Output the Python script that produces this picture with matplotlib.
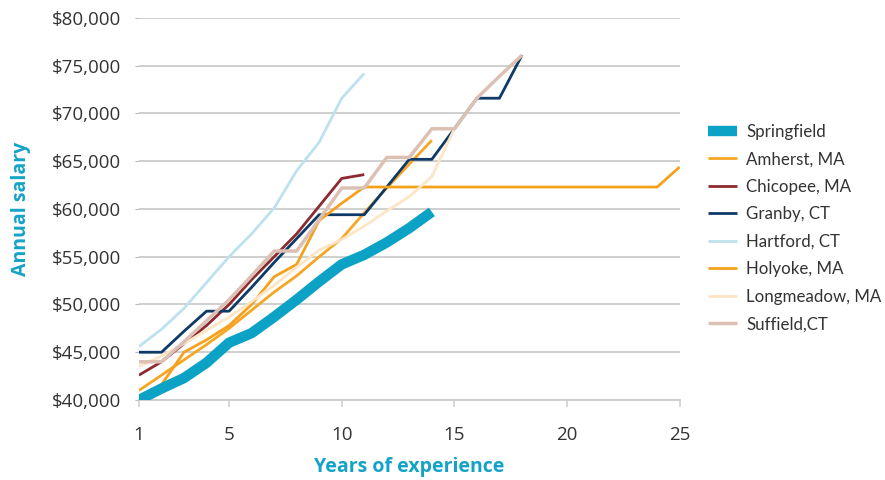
import matplotlib.pyplot as plt
import matplotlib as mpl

mpl.rcParams['font.family'] = ['Open Sans', 'DejaVu Sans']

# Data ---------------------------------------------------
springfield = [40000, 41200, 42300, 43900, 46000, 47000, 48700, 50500, 52400, 54200, 55200, 56500, 58000, 59700]
amherst = [41000, 42600, 44200, 45800, 47500, 49400, 51300, 53000, 55000, 56900, 59600, 62200, 64700, 67200]
chicopee = [42600, 44000, 45900, 47800, 50000, 52600, 55000, 57400, 60300, 63200, 63600]
granby = [45000, 45000, 47200, 49300, 49300, 51800, 54400, 56900, 59400, 59400, 59400, 62300, 65200, 65200,
          68400, 71600, 71600, 76100]
hartford = [45600, 47400, 49600, 52300, 55000, 57400, 60100, 64000, 67000, 71600, 74200]
holyoke = [40000, 41600, 45000, 46300, 47800, 50000, 52900, 54200, 58800, 60600, 62300, 62300, 62300, 62300,
           62300, 62300, 62300, 62300, 62300, 62300, 62300, 62300, 62300, 62300, 64400]
longmeadow = [43500, 44600, 45900, 47300, 48700, 50300, 52000, 53900, 55700, 56800, 58200, 59800, 61300, 63400,
              68400]
suffield = [44000, 44000, 46100, 48300, 50500, 53000, 55600, 55600, 58900, 62200, 62200, 65400, 65400, 68400,
            68400, 71600, 73900, 76100]

series = [
    ('Springfield', springfield, '#0ba2c6', 7.5),
    ('Amherst, MA', amherst, '#f6a623', 2.0),
    ('Chicopee, MA', chicopee, '#8c2a2f', 2.0),
    ('Granby, CT', granby, '#0e3a68', 2.0),
    ('Hartford, CT', hartford, '#bde2ee', 2.0),
    ('Holyoke, MA', holyoke, '#f4a11e', 2.0),
    ('Longmeadow, MA', longmeadow, '#fde5c6', 2.0),
    ('Suffield,CT', suffield, '#dcc0b4', 2.5),
]

x_ticks = [1, 5, 10, 15, 20, 25]
y_ticks = [40000, 45000, 50000, 55000, 60000, 65000, 70000, 75000, 80000]

teal = '#14a3c7'

# Plot ---------------------------------------------------
fig = plt.figure(figsize=(8.85, 4.8), dpi=100)
ax = fig.add_axes([0.157, 0.1667, 0.611, 0.7958])

for i, (name, vals, color, lw) in enumerate(series):
    years = list(range(1, len(vals) + 1))
    z = 10 if name == 'Springfield' else 3
    ax.plot(years, vals, color=color, lw=lw, label=name, zorder=z, solid_capstyle='butt')

ax.set_xlim(1, 25)
ax.set_ylim(40000, 80000)
ax.set_xticks(x_ticks)
ax.set_yticks(y_ticks)
ax.set_yticklabels(['${:,}'.format(v) for v in y_ticks])
ax.grid(axis='y', color='#cccccc', lw=1.3, zorder=0)
ax.set_axisbelow(True)

for s in ['top', 'right', 'left']:
    ax.spines[s].set_visible(False)
ax.spines['bottom'].set_color('#cccccc')
ax.spines['bottom'].set_linewidth(1.3)
ax.tick_params(axis='x', colors='#cccccc', length=5, width=1.1, labelcolor='#333333', labelsize=13.5, pad=14)
ax.tick_params(axis='y', colors='#bbbbbb', length=3, width=0.8, labelcolor='#333333', labelsize=13.5, pad=10)

ax.set_xlabel('Years of experience', color=teal, fontsize=14, fontweight='bold', labelpad=9)
ax.set_ylabel('Annual salary', color=teal, fontsize=14, fontweight='bold', labelpad=15)

handles, labels = ax.get_legend_handles_labels()
fig.legend(handles, labels, loc='center left', bbox_to_anchor=(0.8, 0.525), frameon=False,
           borderaxespad=0, borderpad=0, handlelength=1.7, labelspacing=0.68,
           handletextpad=0.55, labelcolor='#333333', prop={'family': ['Lato', 'DejaVu Sans'], 'size': 12.2})

fig.savefig('out.png', dpi=100)
